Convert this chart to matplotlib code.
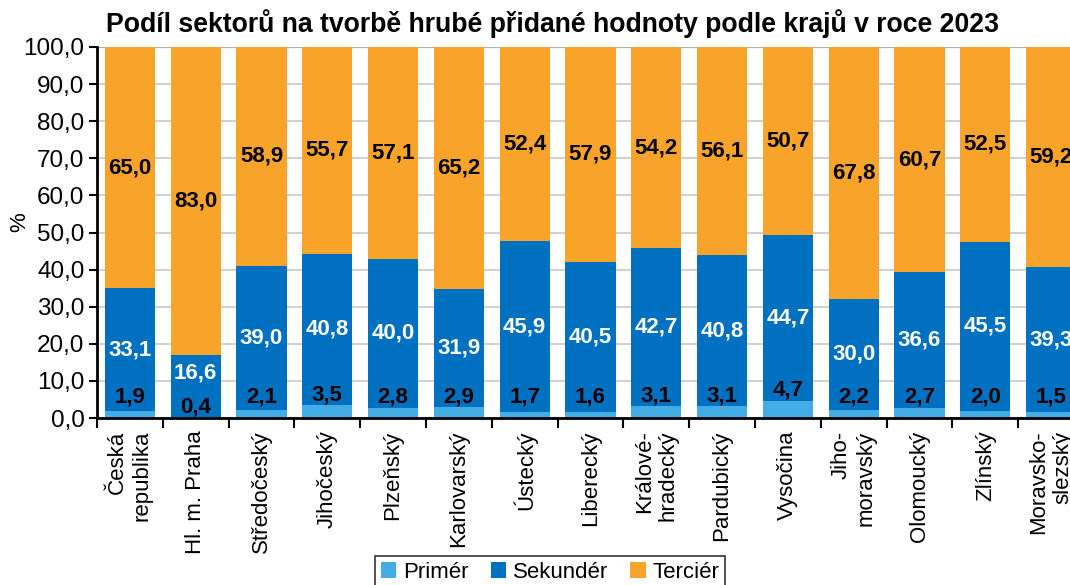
import numpy as np
import matplotlib
matplotlib.use("Agg")
import matplotlib.pyplot as plt
from matplotlib.ticker import FuncFormatter, MultipleLocator

plt.rcParams["font.family"] = ["Liberation Sans", "DejaVu Sans"]

regions = ["Česká\nrepublika", "Hl. m. Praha", "Středočeský", "Jihočeský", "Plzeňský",
           "Karlovarský", "Ústecký", "Liberecký", "Králové-\nhradecký",
           "Pardubický", "Vysočina", "Jiho-\nmoravský", "Olomoucký", "Zlínský", "Moravsko-\nslezský"]
primer = [1.9, 0.4, 2.1, 3.5, 2.8, 2.9, 1.7, 1.6, 3.1, 3.1, 4.7, 2.2, 2.7, 2.0, 1.5]
sekunder = [33.1, 16.6, 39.0, 40.8, 40.0, 31.9, 45.9, 40.5, 42.7, 40.8, 44.7, 30.0, 36.6, 45.5, 39.3]
tercier = [65.0, 83.0, 58.9, 55.7, 57.1, 65.2, 52.4, 57.9, 54.2, 56.1, 50.7, 67.8, 60.7, 52.5, 59.2]

c_pri, c_sek, c_ter = "#45ADE6", "#0070C0", "#F8A42B"

fig = plt.figure(figsize=(10.7, 5.85), dpi=100)
ax = fig.add_axes([97 / 1070, 167 / 585, 987 / 1070, 371 / 585])

x = np.arange(len(regions))
p = np.array(primer)
s = np.array(sekunder)
t = 100 - p - s   # tercier doplnek do 100 (kvuli zaokrouhleni)
w = 0.76
ax.bar(x, p, w, color=c_pri, label="Primér", zorder=3)
ax.bar(x, s, w, bottom=p, color=c_sek, label="Sekundér", zorder=3)
ax.bar(x, t, w, bottom=p + s, color=c_ter, label="Terciér", zorder=3)

fmt = lambda v: f"{v:.1f}".replace(".", ",")
lab = dict(ha="center", va="center", fontsize=16, fontweight="bold", zorder=4)
for i in x:
    yp = 3.0 if i == 1 else max(5.7, p[i] + 2.8)
    ax.text(i, yp, fmt(primer[i]), color="black", **lab)
    ys = 12.1 if i == 1 else p[i] + s[i] / 2
    ax.text(i, ys, fmt(sekunder[i]), color="white", **lab)
    ax.text(i, p[i] + s[i] + t[i] / 2, fmt(tercier[i]), color="black", **lab)

ax.set_xlim(-0.5, len(regions) - 0.5)
ax.set_ylim(0, 100)
ax.yaxis.set_major_locator(MultipleLocator(10))
ax.yaxis.set_major_formatter(FuncFormatter(lambda v, _: fmt(v)))
ax.grid(axis="y", color="#C8C8C8", lw=1.2, zorder=0)
ax.axhline(100, color="#333333", lw=1.5, zorder=1)
ax.set_ylabel("%", fontsize=16)
ax.yaxis.set_label_coords(-0.068, 0.528)
ax.tick_params(axis="y", labelsize=17.5, length=6, width=1.5, direction="out", pad=3)

# carky mezi kategoriemi, popisky na stredu
ax.set_xticks(np.arange(len(regions) + 1) - 0.5)
ax.set_xticklabels([])
ax.tick_params(axis="x", which="major", length=7, width=1.5, direction="out")
ax.set_xticks(x, minor=True)
ax.set_xticklabels(regions, minor=True, rotation=90, fontsize=16,
                   va="top", ha="center", multialignment="right")
ax.tick_params(axis="x", which="minor", length=0, pad=9)

for sp in ["top", "right"]:
    ax.spines[sp].set_visible(False)
for sp in ["left", "bottom"]:
    ax.spines[sp].set_linewidth(2)
    ax.spines[sp].set_zorder(5)

fig.text(553 / 1070, 1 - 24 / 585, "Podíl sektorů na tvorbě hrubé přidané hodnoty podle krajů v roce 2023",
         ha="center", va="center", fontsize=19.2, fontweight="bold")

leg = fig.legend(loc="upper center", bbox_to_anchor=(550 / 1070, 1 - 556 / 585), ncol=3,
                 fontsize=16, frameon=True, fancybox=False, edgecolor="black",
                 handlelength=0.7, handleheight=0.7, handletextpad=0.3, columnspacing=1.0,
                 borderpad=0.25, borderaxespad=0)
leg.get_frame().set_linewidth(1.2)

fig.savefig("out.png", dpi=100)
